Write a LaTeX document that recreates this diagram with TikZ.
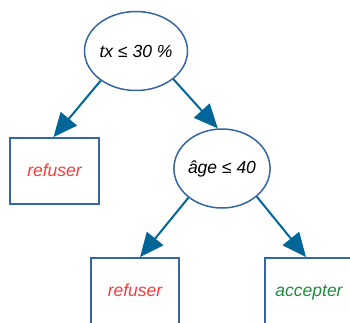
\documentclass[tikz,border=0pt]{standalone}
\usepackage{fontspec}
\setmainfont{Liberation Sans}
\usetikzlibrary{arrows.meta,shapes.geometric}
\definecolor{shapeblue}{HTML}{3465A4}
\definecolor{arrowblue}{HTML}{006699}
\definecolor{nored}{HTML}{FF3838}
\definecolor{yesgreen}{HTML}{1E8C3C}
\tikzset{
  test/.style={ellipse, draw=shapeblue, line width=1.5pt, inner sep=0pt,
    minimum width=95pt, minimum height=79pt, font=\fontsize{17.5}{21}\selectfont\itshape},
  leaf/.style={rectangle, draw=shapeblue, line width=1.8pt, inner sep=0pt,
    minimum width=88pt, minimum height=66pt, text height=14pt, text depth=3pt,
    font=\fontsize{17.5}{21}\selectfont\itshape},
  branch/.style={draw=arrowblue, line width=2pt,
    -{Triangle[length=24pt,width=21pt]}}
}
\begin{document}
\begin{tikzpicture}[x=1pt,y=1pt]
  \useasboundingbox (0,0) rectangle (350,-322);
  \node[test] (e1) at (136,-51) {tx ≤ 30 \%};
  \node[test] (e2) at (222,-168.5) {âge ≤ 40};
  \node[leaf, minimum width=89pt, text=nored] (b1) at (54.5,-171) {refuser};
  \node[leaf, text=nored] (b2) at (135,-291) {refuser};
  \node[leaf, text=yesgreen] (b3) at (309,-291) {accepter};
  \draw[branch] (e1.220) -- ([xshift=-1pt]b1.north);
  \draw[branch] (e1.323) -- (e2.96);
  \draw[branch] (e2.221) -- ([xshift=5pt]b2.north);
  \draw[branch] (e2.321) -- ([xshift=-3pt]b3.north);
\end{tikzpicture}
\end{document}
